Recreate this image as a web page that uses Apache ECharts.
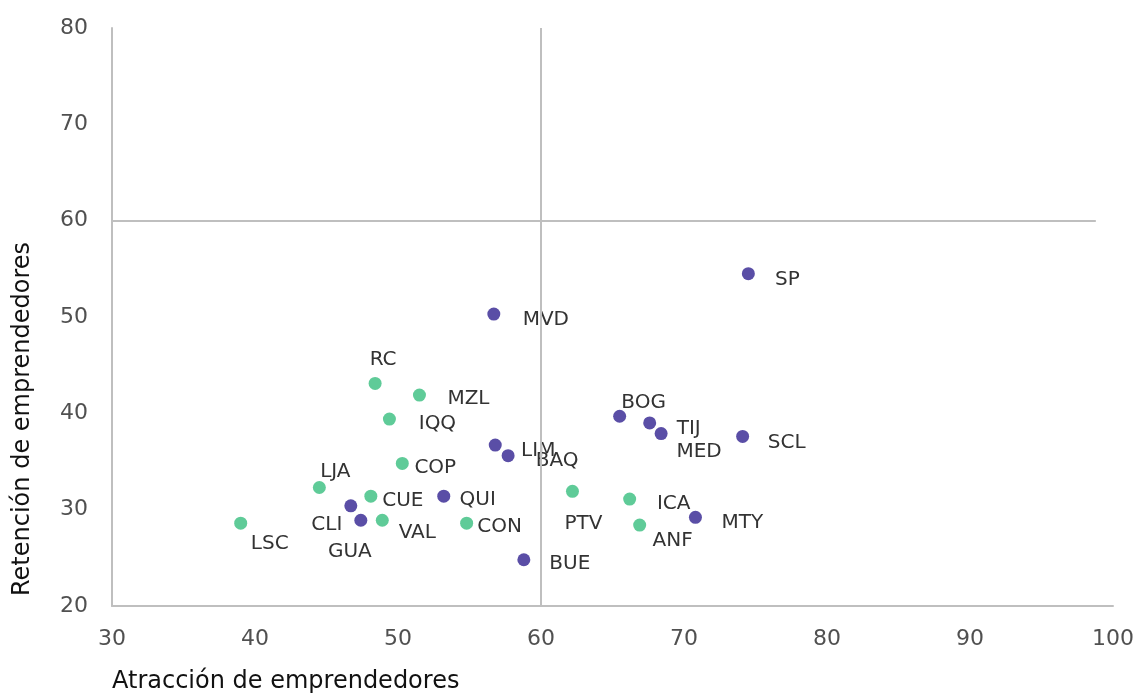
<!DOCTYPE html>
<html>
<head>
<meta charset="utf-8">
<script src="https://cdn.jsdelivr.net/npm/echarts@6/dist/echarts.min.js"></script>
<style>
  html, body { margin: 0; padding: 0; background: #fff; }
  #chart { width: 1139px; height: 697px; }
</style>
</head>
<body>
<div id="chart"></div>
<script>
// purple cities
var purpleNames = ['SP', 'MVD', 'BOG', 'TIJ', 'MED', 'SCL', 'LIM', 'BAQ', 'QUI', 'CLI', 'GUA', 'MTY', 'BUE'];
var purpleX = [74.5, 56.7, 65.5, 67.6, 68.4, 74.1, 56.8, 57.7, 53.2, 46.7, 47.4, 70.8, 58.8];
var purpleY = [54.5, 50.3, 39.7, 39.0, 37.9, 37.6, 36.7, 35.6, 31.4, 30.4, 28.9, 29.2, 24.8];

// green cities
var greenNames = ['RC', 'MZL', 'IQQ', 'COP', 'LJA', 'CUE', 'VAL', 'LSC', 'CON', 'PTV', 'ICA', 'ANF'];
var greenX = [48.4, 51.5, 49.4, 50.3, 44.5, 48.1, 48.9, 39.0, 54.8, 62.2, 66.2, 66.9];
var greenY = [43.1, 41.9, 39.4, 34.8, 32.3, 31.4, 28.9, 28.6, 28.6, 31.9, 31.1, 28.4];

var xTicks = [30, 40, 50, 60, 70, 80, 90, 100];
var yTicks = [20, 30, 40, 50, 60, 70, 80];

// label offsets from the dot centre (px)
var labelOffset = {
  SP: [39, 6], MVD: [52, 6], BOG: [24, -13], TIJ: [39, 6], MED: [38, 18],
  SCL: [44, 6], LIM: [43, 6], BAQ: [49, 5], QUI: [34, 4], CLI: [-24, 19],
  GUA: [-11, 32], MTY: [47, 5], BUE: [46, 4],
  RC: [8, -24], MZL: [49, 4], IQQ: [48, 5], COP: [33, 4], LJA: [16, -16],
  CUE: [32, 5], VAL: [35, 13], LSC: [29, 21], CON: [33, 4], PTV: [11, 32],
  ICA: [44, 5], ANF: [33, 16]
};

var FONT = 'DejaVu Sans';
var LINE = '#bfbfbf';

var make_points = function(names, xs, ys) {
  var out = [];
  for (var i = 0; i < names.length; i++) {
    out.push({
      name: names[i],
      value: [xs[i], ys[i]],
      label: { offset: labelOffset[names[i]] }
    });
  }
  return out;
};

var pointLabel = {
  show: true,
  position: 'inside',
  align: 'center',
  verticalAlign: 'middle',
  color: '#333333',
  fontFamily: FONT,
  fontSize: 20,
  formatter: function(p) { return p.name; }
};

var chart = echarts.init(document.getElementById('chart'));
var option = {
  animation: false,
  grid: { left: 112, right: 26, top: 28, bottom: 91, containLabel: false },
  xAxis: {
    type: 'value',
    min: xTicks[0],
    max: xTicks[xTicks.length - 1],
    interval: 10,
    axisLine: { show: true, lineStyle: { color: LINE, width: 2 } },
    axisTick: { show: false },
    splitLine: { show: false },
    axisLabel: { color: '#505050', fontFamily: FONT, fontSize: 22, margin: 22 }
  },
  yAxis: {
    type: 'value',
    min: yTicks[0],
    max: yTicks[yTicks.length - 1],
    interval: 10,
    axisLine: { show: true, lineStyle: { color: LINE, width: 2 } },
    axisTick: { show: false },
    splitLine: { show: false },
    axisLabel: { color: '#505050', fontFamily: FONT, fontSize: 22, margin: 24 }
  },
  graphic: [
    {
      type: 'text', left: 112, top: 670,
      style: { text: 'Atracción de emprendedores', fill: '#111111', font: '24px "DejaVu Sans"' }
    },
    {
      type: 'text', x: 23, y: 419, rotation: Math.PI / 2,
      style: {
        text: 'Retención de emprendedores', fill: '#111111', font: '24px "DejaVu Sans"',
        align: 'center', verticalAlign: 'middle'
      }
    }
  ],
  series: [
    {
      name: 'purple',
      type: 'scatter',
      symbolSize: 13,
      itemStyle: { color: '#5a4ea6', opacity: 1 },
      label: pointLabel,
      data: make_points(purpleNames, purpleX, purpleY),
      markLine: {
        silent: true,
        symbol: 'none',
        label: { show: false },
        lineStyle: { color: LINE, width: 2, type: 'solid' },
        data: [
          { xAxis: 60 },
          [{ coord: [30, 60] }, { coord: [98.8, 60] }]
        ]
      }
    },
    {
      name: 'green',
      type: 'scatter',
      symbolSize: 13,
      itemStyle: { color: '#5fcb98', opacity: 1 },
      label: pointLabel,
      data: make_points(greenNames, greenX, greenY)
    }
  ]
};
chart.setOption(option);
</script>
</body>
</html>
